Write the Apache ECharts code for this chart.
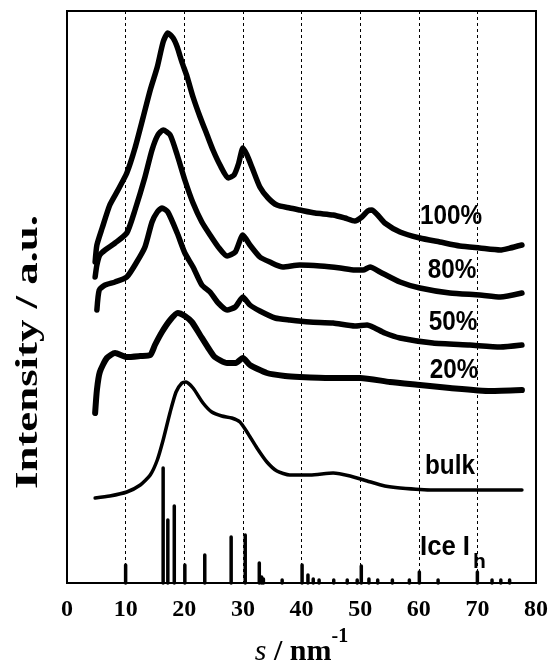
<!DOCTYPE html>
<html>
<head>
<meta charset="utf-8">
<script src="https://cdn.jsdelivr.net/npm/echarts@6/dist/echarts.min.js"></script>
<style>
html,body{margin:0;padding:0;background:#fff;}
#chart{width:551px;height:664px;}
</style>
</head>
<body>
<div id="chart"></div>
<script>
// x ticks (s / nm^-1)
var xTicks = [0, 10, 20, 30, 40, 50, 60, 70, 80];

// curves: [s, intensity (a.u., offset stacked)]
var curve100 = [[4.8,321],[5.1,338],[6.0,355],[7.3,378],[8.7,393],[10.2,410],[11.6,435],[13.0,466],[14.2,493],[15.4,516],[16.4,541],[17.2,550],[18.1,545],[18.8,536],[19.6,521],[20.5,506],[21.5,486],[22.7,466],[23.9,448],[24.9,433],[26.1,418],[27.5,405],[28.5,408],[29.3,420],[30.0,435],[30.7,428],[31.6,415],[32.9,396],[34.3,385],[35.8,378],[38.0,375],[39.7,373],[42.3,370],[45.4,368],[47.4,365],[49.1,362],[50.3,366],[51.3,372],[52.0,373],[53.0,368],[54.2,360],[56.8,351],[60.2,345],[63.6,341],[67.0,337],[70.4,335],[73.9,333],[75.6,335],[77.6,338]];
var curve80 = [[4.8,306],[5.1,318],[5.6,328],[6.5,333],[8.2,340],[10.2,350],[11.6,373],[13.3,406],[14.5,433],[15.5,448],[16.4,453],[17.6,448],[18.8,428],[20.1,403],[21.5,380],[23.0,361],[24.4,348],[25.8,336],[27.3,327],[28.7,331],[30.0,348],[31.2,338],[32.9,326],[34.6,321],[36.8,316],[39.7,318],[43.2,317],[46.6,315],[49.1,313],[50.5,313],[51.7,316],[53.4,311],[56.8,301],[60.2,295],[65.3,290],[70.4,288],[73.9,286],[77.6,290]];
var curve50 = [[5.1,273],[5.5,293],[6.5,298],[8.2,301],[10.2,306],[11.9,321],[13.3,336],[14.5,361],[15.4,371],[16.2,375],[17.2,371],[18.8,350],[20.1,330],[21.5,316],[23.0,298],[24.4,291],[25.8,280],[27.3,273],[28.7,276],[30.0,286],[31.2,278],[32.9,272],[35.5,265],[38.0,263],[41.4,261],[45.4,260],[49.1,257],[51.2,258],[52.5,255],[54.2,250],[56.8,245],[62.4,240],[68.7,238],[73.9,236],[77.6,238]];
var curve20 = [[4.8,170],[5.1,193],[5.6,211],[6.8,225],[8.2,230],[10.2,226],[12.5,227],[14.2,228],[15.0,238],[16.2,251],[17.6,263],[18.9,270],[20.1,267],[21.3,261],[22.7,248],[24.1,235],[25.2,226],[27.3,220],[28.8,220],[30.0,225],[31.2,218],[34.1,210],[37.2,207],[39.7,206],[44.9,205],[50.0,205],[55.1,201],[60.2,198],[65.3,195],[72.2,192],[77.6,193]];
var curveBulk = [[4.8,85],[7.3,87],[10.2,91],[12.5,98],[14.2,108],[15.4,123],[16.4,143],[17.6,171],[18.6,191],[19.6,200],[20.3,201],[21.5,195],[23.2,180],[24.7,171],[26.4,167],[28.1,165],[29.5,161],[30.7,151],[32.4,135],[34.1,121],[35.8,112],[38.0,108],[41.5,108],[45.4,110],[48.3,107],[51.2,102],[54.2,97],[56.8,95],[62.4,93],[68.7,93],[73.9,93],[77.6,93]];

// Ice Ih reflections: [s, height]
var iceSticks = [[10.0,18],[16.4,115],[17.2,63],[18.3,77],[20.1,18],[23.5,28],[28.0,46],[30.4,48],[32.8,20],[33.2,6],[33.5,4],[36.7,3],[40.1,18],[41.1,8],[42.0,4],[43.0,3],[45.5,3],[47.8,3],[49.5,3],[50.2,17],[51.5,4],[53.0,3],[55.5,3],[58.4,3],[60.1,11],[63.3,3],[70.0,11],[72.5,3],[74.0,3],[75.5,3]];

var chart = echarts.init(document.getElementById('chart'));

function lineSeries(data, w) {
    return {
        type: 'line',
        data: data,
        showSymbol: false,
        smooth: 0.2,
        silent: true,
        lineStyle: {color: '#000', width: w, join: 'round', cap: 'round'}
    };
}

var labelFont = {fontFamily: '"Liberation Sans", Arial, sans-serif', fontWeight: 'bold', fontSize: 27, fill: '#000'};

function label(txt, cx, cy) {
    return {
        type: 'text', x: cx, y: cy, scaleX: 0.9,
        style: Object.assign({text: txt, align: 'center', verticalAlign: 'middle'}, labelFont)
    };
}

chart.setOption({
    animation: false,
    grid: {left: 67, top: 11, right: 15, bottom: 81, outerBoundsMode: 'none', show: true, borderColor: '#000', borderWidth: 2, backgroundColor: 'transparent'},
    xAxis: {
        type: 'value', min: 0, max: 80, interval: 10,
        axisLine: {show: false},
        axisTick: {show: false},
        axisLabel: {
            margin: 15, color: '#000', fontSize: 24, fontWeight: 'bold',
            fontFamily: '"Liberation Serif", "Times New Roman", serif',
            formatter: function (v) { return xTicks.indexOf(v) >= 0 ? String(v) : ''; }
        },
        splitLine: {show: true, lineStyle: {color: '#000', width: 1, type: [3, 3]}},
        name: '{i|s}{b| / nm}{sup|-1}',
        nameLocation: 'middle',
        nameGap: 30,
        nameTextStyle: {
            rich: {
                i: {fontFamily: '"Liberation Serif", serif', fontStyle: 'italic', fontSize: 30, color: '#000', lineHeight: 40, verticalAlign: 'bottom'},
                b: {fontFamily: '"Liberation Serif", serif', fontWeight: 'bold', fontSize: 30, color: '#000', lineHeight: 40, verticalAlign: 'bottom'},
                sup: {fontFamily: '"Liberation Serif", serif', fontWeight: 'bold', fontSize: 20, color: '#000', lineHeight: 28, verticalAlign: 'top'}
            }
        }
    },
    yAxis: {
        type: 'value', min: 0, max: 572, show: false
    },
    graphic: [
        {
            type: 'text', x: 29, y: 352, rotation: Math.PI / 2, scaleX: 1.4,
            style: {text: 'Intensity / a.u.', align: 'center', verticalAlign: 'middle',
                fontFamily: '"Liberation Serif", "Times New Roman", serif', fontWeight: 'bold', fontSize: 32, fill: '#000'}
        },
        label('100%', 451, 217),
        label('80%', 452, 271),
        label('50%', 453, 323),
        label('20%', 454, 371),
        label('bulk', 450, 467),
        {
            type: 'text', x: 420, y: 548, scaleX: 0.95,
            style: Object.assign({text: 'Ice I', align: 'left', verticalAlign: 'middle'}, labelFont)
        },
        {
            type: 'text', x: 473, y: 562,
            style: Object.assign({text: 'h', align: 'left', verticalAlign: 'middle'}, labelFont, {fontSize: 21})
        }
    ],
    series: [
        lineSeries(curve100, 5.5),
        lineSeries(curve80, 5.5),
        lineSeries(curve50, 5.5),
        lineSeries(curve20, 6),
        lineSeries(curveBulk, 3.5),
        {
            type: 'custom',
            silent: true,
            data: iceSticks,
            renderItem: function (params, api) {
                var p0 = api.coord([api.value(0), 0]);
                var p1 = api.coord([api.value(0), api.value(1)]);
                return {
                    type: 'line',
                    shape: {x1: p0[0], y1: p0[1], x2: p1[0], y2: p1[1]},
                    style: {stroke: '#000', lineWidth: 3.5, lineCap: 'round'}
                };
            }
        }
    ]
});
</script>
</body>
</html>
